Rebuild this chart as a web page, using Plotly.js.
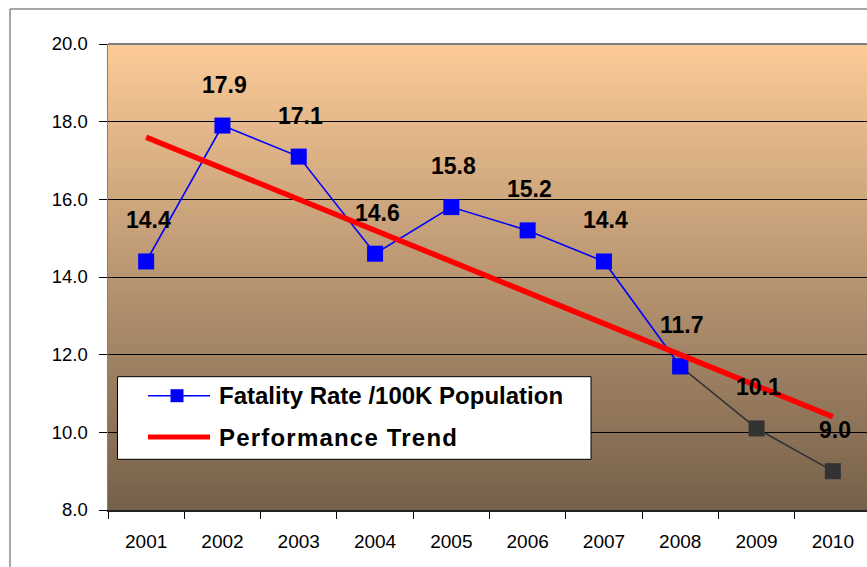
<!DOCTYPE html>
<html>
<head>
<meta charset="utf-8">
<script src="https://cdn.plot.ly/plotly-3.0.1.min.js"></script>
<style>
html,body{margin:0;padding:0;background:#fff;}
#chart{width:867px;height:567px;}
</style>
</head>
<body>
<div id="chart"></div>
<script>
// ---- data ----
const years = ['2001','2002','2003','2004','2005','2006','2007','2008','2009','2010'];
const fatalityRate = [14.4, 17.9, 17.1, 14.6, 15.8, 15.2, 14.4, 11.7, 10.1, 9.0];
const actualYears = years.slice(0, 8);          // blue segment
const actualRate = fatalityRate.slice(0, 8);
const recentYears = years.slice(7);             // dark segment
const recentRate = fatalityRate.slice(7);
const trendYears = ['2001', '2010'];
const trendValues = [17.6, 10.4];
const seriesNames = ['Fatality Rate /100K Population', 'Performance Trend'];
const yTicks = [8, 10, 12, 14, 16, 18, 20];

// ---- geometry helpers (pixel -> paper) ----
const W = 867, H = 567;
const M = {l: 108, r: 0, t: 44, b: 57};
const PW = W - M.l - M.r, PH = H - M.t - M.b;
const xp = px => (px - M.l) / PW;
const yp = py => (H - M.b - py) / PH;

const FONT = 'Liberation Sans, Arial, sans-serif';

// gradient background bands
const shapes = [];
const gradTop = [252, 203, 152], gradBot = [117, 96, 74];
const N = 90;
for (let i = 0; i < N; i++) {
  const t = (i + 0.5) / N;
  const c = gradTop.map((v, k) => Math.round(v + (gradBot[k] - v) * t));
  shapes.push({type: 'rect', xref: 'paper', yref: 'paper', layer: 'below',
    x0: 0, x1: 1, y0: 1 - (i + 1) / N - 0.001, y1: 1 - i / N + 0.001,
    fillcolor: `rgb(${c[0]},${c[1]},${c[2]})`, line: {width: 0}});
}
// outer chart frame
shapes.push({type: 'line', xref: 'paper', yref: 'paper', x0: xp(10), x1: xp(10), y0: yp(9), y1: yp(580), line: {color: '#8a8a8a', width: 1.5}});
shapes.push({type: 'line', xref: 'paper', yref: 'paper', x0: xp(10), x1: xp(880), y0: yp(9), y1: yp(9), line: {color: '#8a8a8a', width: 1.5}});
// plot top border
shapes.push({type: 'line', xref: 'paper', yref: 'paper', x0: 0, x1: 1.01, y0: 1, y1: 1, line: {color: '#808080', width: 2}});
// legend box
shapes.push({type: 'rect', xref: 'paper', yref: 'paper', x0: xp(117.5), x1: xp(591), y0: yp(459.3), y1: yp(376.7), fillcolor: '#ffffff', line: {color: '#000', width: 1}});
shapes.push({type: 'line', xref: 'paper', yref: 'paper', x0: xp(148), x1: xp(210), y0: yp(395.7), y1: yp(395.7), line: {color: '#0000ff', width: 1.5}});
shapes.push({type: 'rect', xref: 'paper', yref: 'paper', x0: xp(170.5), x1: xp(183.5), y0: yp(402.2), y1: yp(389.2), fillcolor: '#0000ff', line: {width: 0}});
shapes.push({type: 'line', xref: 'paper', yref: 'paper', x0: xp(148), x1: xp(210), y0: yp(437), y1: yp(437), line: {color: '#ff0000', width: 5}});

// data labels (category axis -> use category index for x)
const annotations = fatalityRate.map((v, i) => ({
  x: i, y: v, xref: 'x', yref: 'y', text: '<b>' + v.toFixed(1) + '</b>',
  showarrow: false, yshift: 41, xshift: 2,
  font: {family: FONT, size: 23, color: '#000'}
}));
annotations.push({xref: 'paper', yref: 'paper', x: xp(216.5), y: yp(395.7), xanchor: 'left', yanchor: 'middle',
  text: '<b>' + seriesNames[0] + '</b>', showarrow: false, font: {family: FONT, size: 24, color: '#000'}});
annotations.push({xref: 'paper', yref: 'paper', x: xp(216.5), y: yp(437), xanchor: 'left', yanchor: 'middle',
  text: '<b><span style="letter-spacing:1.2px">' + seriesNames[1] + '</span></b>', showarrow: false, font: {family: FONT, size: 24, color: '#000'}});

const traces = [
  {x: recentYears, y: recentRate, type: 'scatter', mode: 'lines+markers', showlegend: false,
   line: {color: '#333333', width: 1.6}, marker: {symbol: 'square', size: 16, color: '#333333'}},
  {x: actualYears, y: actualRate, type: 'scatter', mode: 'lines+markers', name: seriesNames[0], showlegend: false,
   line: {color: '#0000ff', width: 1.6}, marker: {symbol: 'square', size: 16, color: '#0000ff'}},
  {x: trendYears, y: trendValues, type: 'scatter', mode: 'lines', name: seriesNames[1], showlegend: false,
   line: {color: '#ff0000', width: 5.5}}
];

const layout = {
  width: W, height: H, margin: M,
  paper_bgcolor: '#ffffff', plot_bgcolor: 'rgba(0,0,0,0)',
  showlegend: false,
  xaxis: {type: 'category', categoryorder: 'array', categoryarray: years,
    range: [-0.5, -0.5 + PW / 76.3], tickson: 'boundaries', ticks: 'outside', ticklen: 7, tickcolor: '#000', tickwidth: 1,
    showgrid: false, showline: true, linecolor: '#222', linewidth: 1.5, zeroline: false,
    ticklabelstandoff: 14,
    tickfont: {family: FONT, size: 19, color: '#000'}},
  yaxis: {range: [8, 20], tickvals: yTicks, ticktext: yTicks.map(v => v.toFixed(1)),
    ticks: 'outside', ticklen: 8, tickcolor: '#000', tickwidth: 1,
    showgrid: true, gridcolor: '#000', gridwidth: 1, zeroline: false,
    showline: true, linecolor: '#808080', linewidth: 1.5, ticklabelstandoff: 7,
    tickfont: {family: FONT, size: 18.5, color: '#000'}},
  shapes: shapes,
  annotations: annotations
};

Plotly.newPlot('chart', traces, layout, {displayModeBar: false, staticPlot: true});
</script>
</body>
</html>
